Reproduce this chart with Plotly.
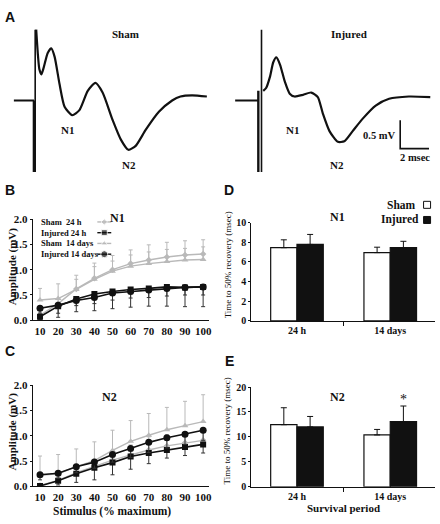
import plotly.graph_objects as go

W, H = 440, 524

# ---------------- Panel A: compound action potential traces (msec, mV) ----------------
sham_base_t = [-1.45, -0.05]
sham_base_v = [0.0, 0.0]
sham_t = [0.10, 0.22, 0.32, 0.46, 0.62, 0.90, 1.15, 1.38, 1.72, 2.07, 2.60, 3.10, 3.68,
          4.21, 4.71, 5.40, 5.98, 6.50, 7.01, 7.70, 8.62, 9.54, 10.12, 10.92, 11.95]
sham_v = [1.25, 0.80, 0.55, 0.46, 0.58, 0.84, 0.92, 0.77, 0.29, -0.11, -0.26, -0.17, 0.17,
          0.31, 0.14, -0.34, -0.69, -0.87, -0.80, -0.52, -0.20, 0.00, 0.07, 0.09, 0.07]
sham_artifact_t = [0.03, 0.03]
sham_artifact_v = [1.25, -1.26]
sham_artifact2_t = [-0.06, -0.06]
sham_artifact2_v = [0.0, -1.26]

inj_base_t = [-1.83, -0.22]
inj_base_v = [0.0, 0.0]
inj_t = [0.12, 0.32, 0.60, 0.81, 1.03, 1.29, 1.61, 1.96, 2.30, 2.88, 3.45, 3.91, 4.26,
         4.72, 5.30, 5.75, 6.33, 7.03, 7.93, 8.86, 10.23, 11.72]
inj_v = [0.17, 0.22, 0.43, 0.67, 0.76, 0.63, 0.34, 0.12, 0.07, 0.10, 0.14, 0.06, -0.23,
         -0.54, -0.73, -0.72, -0.54, -0.32, -0.09, 0.03, 0.07, 0.06]
inj_artifact_t = [0.0, 0.0]
inj_artifact_v = [1.25, -1.26]
inj_artifact2_t = [-0.22, -0.22]
inj_artifact2_v = [0.17, -1.26]

scale_mv = 0.5      # vertical scale bar
scale_ms = 2.0      # horizontal scale bar
scale_origin_t = 9.63
scale_origin_v = -0.85

# ---------------- Panels B, C: amplitude vs stimulus ----------------
stimulus = [10, 20, 30, 40, 50, 60, 70, 80, 90, 100]

n1_sham24 = [0.10, 0.33, 0.62, 0.83, 1.00, 1.12, 1.19, 1.25, 1.29, 1.31]
n1_sham24_err = [0.05, 0.10, 0.27, 0.30, 0.28, 0.27, 0.30, 0.29, 0.28, 0.28]
n1_inj24 = [0.07, 0.28, 0.42, 0.52, 0.57, 0.61, 0.63, 0.66, 0.65, 0.66]
n1_inj24_err = [0.05, 0.22, 0.25, 0.33, 0.34, 0.35, 0.35, 0.38, 0.38, 0.39]
n1_sham14 = [0.40, 0.43, 0.61, 0.81, 0.97, 1.07, 1.12, 1.16, 1.19, 1.20]
n1_sham14_err = [0.23, 0.29, 0.20, 0.25, 0.20, 0.22, 0.23, 0.24, 0.23, 0.25]
n1_inj14 = [0.24, 0.30, 0.39, 0.45, 0.54, 0.57, 0.60, 0.63, 0.65, 0.66]
n1_inj14_err = [0.10, 0.16, 0.10, 0.12, 0.14, 0.13, 0.15, 0.15, 0.15, 0.16]

n2_sham24 = [0.02, 0.12, 0.27, 0.40, 0.52, 0.62, 0.72, 0.80, 0.86, 0.91]
n2_sham24_err = [0.02, 0.06, 0.10, 0.12, 0.15, 0.20, 0.26, 0.22, 0.20, 0.20]
n2_inj24 = [0.01, 0.11, 0.25, 0.37, 0.47, 0.59, 0.66, 0.72, 0.78, 0.83]
n2_inj24_err = [0.01, 0.08, 0.17, 0.24, 0.24, 0.25, 0.21, 0.16, 0.17, 0.17]
n2_sham14 = [0.22, 0.25, 0.39, 0.51, 0.71, 0.89, 1.01, 1.12, 1.20, 1.28]
n2_sham14_err = [0.38, 0.38, 0.35, 0.37, 0.40, 0.41, 0.43, 0.44, 0.48, 0.53]
n2_inj14 = [0.23, 0.26, 0.39, 0.48, 0.63, 0.75, 0.87, 0.96, 1.03, 1.11]
n2_inj14_err = [0.10, 0.10, 0.12, 0.12, 0.15, 0.18, 0.20, 0.20, 0.20, 0.20]

# ---------------- Panels D, E: time to 50% recovery ----------------
periods = ["24 h", "14 days"]
n1_rec_sham = [7.45, 6.95]
n1_rec_sham_err = [0.80, 0.55]
n1_rec_inj = [7.78, 7.45]
n1_rec_inj_err = [1.02, 0.65]
n2_rec_sham = [12.45, 10.40]
n2_rec_sham_err = [3.40, 1.10]
n2_rec_inj = [12.00, 13.05]
n2_rec_inj_err = [2.10, 3.15]
n2_significant = [False, True]

GRAY = "#b9b9b9"
BLACK = "#111111"
SERIF = "Liberation Serif"
SANS = "Liberation Sans"


def px(x, y):
    return x / W, 1 - y / H


fig = go.Figure()

# ---- Panel A traces ----
def add_trace_set(bt, bv, t, v, a1t, a1v, a2t, a2v, xa, ya):
    fig.add_trace(go.Scatter(x=bt, y=bv, mode="lines", line=dict(color=BLACK, width=2.2),
                             xaxis=xa, yaxis=ya, showlegend=False, hoverinfo="skip"))
    fig.add_trace(go.Scatter(x=a1t, y=a1v, mode="lines", line=dict(color=BLACK, width=1.6),
                             xaxis=xa, yaxis=ya, showlegend=False, hoverinfo="skip"))
    fig.add_trace(go.Scatter(x=a2t, y=a2v, mode="lines", line=dict(color=BLACK, width=2.4),
                             xaxis=xa, yaxis=ya, showlegend=False, hoverinfo="skip"))
    fig.add_trace(go.Scatter(x=t, y=v, mode="lines",
                             line=dict(color=BLACK, width=2.2, shape="spline", smoothing=0.6),
                             xaxis=xa, yaxis=ya, showlegend=False, hoverinfo="skip"))

add_trace_set(sham_base_t, sham_base_v, sham_t, sham_v, sham_artifact_t, sham_artifact_v,
              sham_artifact2_t, sham_artifact2_v, "x", "y")
add_trace_set(inj_base_t, inj_base_v, inj_t, inj_v, inj_artifact_t, inj_artifact_v,
              inj_artifact2_t, inj_artifact2_v, "x2", "y2")

# scale bar (data units on the injured trace axes)
fig.add_trace(go.Scatter(
    x=[scale_origin_t, scale_origin_t, scale_origin_t + scale_ms],
    y=[scale_origin_v + scale_mv, scale_origin_v, scale_origin_v],
    mode="lines", line=dict(color=BLACK, width=1.6), xaxis="x2", yaxis="y2",
    showlegend=False, hoverinfo="skip"))

# ---- Panels B and C ----
def add_amp(xa, ya, s24, s24e, i24, i24e, s14, s14e, i14, i14e):
    zeros = [0] * len(stimulus)
    fig.add_trace(go.Scatter(x=stimulus, y=s14, mode="lines+markers",
                             line=dict(color=GRAY, width=1.4),
                             marker=dict(symbol="triangle-up", size=6, color=GRAY),
                             error_y=dict(type="data", array=s14e, arrayminus=zeros, color=GRAY,
                                          thickness=1, width=2),
                             xaxis=xa, yaxis=ya, showlegend=False))
    fig.add_trace(go.Scatter(x=stimulus, y=s24, mode="lines+markers",
                             line=dict(color=GRAY, width=1.4),
                             marker=dict(symbol="diamond", size=5, color=GRAY),
                             error_y=dict(type="data", array=s24e, arrayminus=zeros, color=GRAY,
                                          thickness=1, width=2),
                             xaxis=xa, yaxis=ya, showlegend=False))
    fig.add_trace(go.Scatter(x=stimulus, y=i24, mode="lines+markers",
                             line=dict(color=BLACK, width=1.6),
                             marker=dict(symbol="square", size=6, color=BLACK),
                             error_y=dict(type="data", array=zeros, arrayminus=i24e, color="#333333",
                                          thickness=1, width=2),
                             xaxis=xa, yaxis=ya, showlegend=False))
    fig.add_trace(go.Scatter(x=stimulus, y=i14, mode="lines+markers",
                             line=dict(color=BLACK, width=1.6),
                             marker=dict(symbol="circle", size=7, color=BLACK),
                             error_y=dict(type="data", array=zeros, arrayminus=i14e, color="#333333",
                                          thickness=1, width=2),
                             xaxis=xa, yaxis=ya, showlegend=False))

add_amp("x3", "y3", n1_sham24, n1_sham24_err, n1_inj24, n1_inj24_err,
        n1_sham14, n1_sham14_err, n1_inj14, n1_inj14_err)
add_amp("x4", "y4", n2_sham24, n2_sham24_err, n2_inj24, n2_inj24_err,
        n2_sham14, n2_sham14_err, n2_inj14, n2_inj14_err)

# ---- Panels D and E ----
def add_bars(xa, ya, s, se, i, ie):
    idx = list(range(len(periods)))
    fig.add_trace(go.Bar(x=idx, y=s, marker=dict(color="white", line=dict(color=BLACK, width=1.2)),
                         error_y=dict(type="data", array=se, arrayminus=[0] * len(s), color=BLACK,
                                      thickness=1, width=3),
                         xaxis=xa, yaxis=ya, showlegend=False))
    fig.add_trace(go.Bar(x=idx, y=i, marker=dict(color=BLACK, line=dict(color=BLACK, width=1.2)),
                         error_y=dict(type="data", array=ie, arrayminus=[0] * len(i), color=BLACK,
                                      thickness=1, width=3),
                         xaxis=xa, yaxis=ya, showlegend=False))

add_bars("x5", "y5", n1_rec_sham, n1_rec_sham_err, n1_rec_inj, n1_rec_inj_err)
add_bars("x6", "y6", n2_rec_sham, n2_rec_sham_err, n2_rec_inj, n2_rec_inj_err)

# ---- legend keys drawn on a pixel overlay axis ----
leg_keys = [("Sham  24 h", GRAY, "diamond", 5, 221),
            ("Injured 24 h", BLACK, "square", 6, 232),
            ("Sham  14 days", GRAY, "triangle-up", 6, 243),
            ("Injured 14 days", BLACK, "circle", 7, 254)]
for name, col, sym, size, yy in leg_keys:
    fig.add_trace(go.Scatter(x=[98, 105, 112], y=[yy, yy, yy], mode="lines+markers",
                             line=dict(color=col, width=1.4),
                             marker=dict(symbol=sym, size=[0, size, 0], color=col),
                             xaxis="x7", yaxis="y7", showlegend=False, hoverinfo="skip"))
fig.add_trace(go.Scatter(x=[430, 430], y=[203.5, 219], mode="markers",
                         marker=dict(symbol="square", size=7, color=["white", BLACK],
                                     line=dict(color=BLACK, width=1)),
                         xaxis="x7", yaxis="y7", showlegend=False, hoverinfo="skip"))

# ---------------- axes ----------------
hidden = dict(visible=False, showgrid=False, zeroline=False)
tick_font = dict(family=SERIF, size=11, color=BLACK, weight="bold")
small_tick_font = dict(family=SERIF, size=10, color=BLACK, weight="bold")
line_axis = dict(showline=True, linecolor=BLACK, linewidth=1, showgrid=False, zeroline=False,
                 ticks="outside", ticklen=2, tickcolor=BLACK, tickfont=tick_font)

amp_x = dict(line_axis, range=[6, 103], tickvals=stimulus, ticklen=0, ticks="")
amp_y = dict(line_axis, range=[0, 2.0], tickvals=[0, 0.5, 1.0, 1.5, 2.0], tickformat=".1f")
bar_x = dict(line_axis, range=[-0.49, 1.48], tickvals=[0, 1], ticktext=periods, ticks="",
             tickfont=small_tick_font,
             minor=dict(tickvals=[0.5], ticks="outside", ticklen=4, tickcolor=BLACK))

fig.update_layout(
    width=W, height=H, margin=dict(l=0, r=0, t=0, b=0),
    paper_bgcolor="white", plot_bgcolor="rgba(0,0,0,0)",
    barmode="group", bargap=0.436, bargroupgap=0,
    xaxis=dict(hidden, range=[-2, 12], domain=[6 / W, 209 / W]),
    yaxis=dict(hidden, range=[-1.5, 1.5], domain=[1 - 183.7 / H, 1 - 9.7 / H]),
    xaxis2=dict(hidden, range=[-2, 12], domain=[234.3 / W, 437.3 / W]),
    yaxis2=dict(hidden, range=[-1.5, 1.5], domain=[1 - 183.7 / H, 1 - 9.7 / H]),
    xaxis3=dict(amp_x, domain=[33 / W, 210 / W], anchor="y3"),
    yaxis3=dict(amp_y, domain=[1 - 321.7 / H, 1 - 218 / H], anchor="x3"),
    xaxis4=dict(amp_x, domain=[33 / W, 210 / W], anchor="y4"),
    yaxis4=dict(amp_y, domain=[1 - 491.7 / H, 1 - 388 / H], anchor="x4"),
    xaxis5=dict(bar_x, domain=[253 / W, 438 / W], anchor="y5"),
    yaxis5=dict(line_axis, range=[0, 10], tickvals=[0, 2, 4, 6, 8, 10],
                domain=[1 - 322.3 / H, 1 - 221.7 / H], anchor="x5", tickfont=small_tick_font),
    xaxis6=dict(bar_x, domain=[253 / W, 438 / W], anchor="y6"),
    yaxis6=dict(line_axis, range=[0, 20], tickvals=[0, 5, 10, 15, 20],
                domain=[1 - 492 / H, 1 - 390 / H], anchor="x6", tickfont=small_tick_font),
    xaxis7=dict(hidden, range=[0, W], domain=[0, 1], anchor="y7"),
    yaxis7=dict(hidden, range=[H, 0], domain=[0, 1], anchor="x7"),
)

# ---------------- annotations ----------------
ann = []

def text(x, y, s, size=11, family=SERIF, bold=True, anchor="center", angle=0, color=BLACK):
    fx, fy = px(x, y)
    ann.append(dict(x=fx, y=fy, xref="paper", yref="paper", text=(f"<b>{s}</b>" if bold else s),
                    showarrow=False, xanchor=anchor, yanchor="middle", textangle=angle,
                    font=dict(family=family, size=size, color=color)))

# panel letters
for letter, x, y in [("A", 10, 11), ("B", 10, 188), ("C", 10, 353), ("D", 231, 188), ("E", 231, 363)]:
    text(x, y, letter, size=14, family=SANS)

# panel A labels (data coords)
def dtext(xa, ya, t, v, s, size=11, anchor="center"):
    ann.append(dict(x=t, y=v, xref=xa, yref=ya, text=f"<b>{s}</b>", showarrow=False,
                    xanchor=anchor, yanchor="middle",
                    font=dict(family=SERIF, size=size, color=BLACK)))

dtext("x", "y", 6.28, 1.18, "Sham")
dtext("x", "y", 2.28, -0.52, "N1")
dtext("x", "y", 6.55, -1.14, "N2")
dtext("x2", "y2", 6.05, 1.18, "Injured")
dtext("x2", "y2", 2.12, -0.52, "N1")
dtext("x2", "y2", 5.22, -1.14, "N2")
dtext("x2", "y2", scale_origin_t - 0.2, scale_origin_v + scale_mv * 0.45, "0.5 mV", size=10.5, anchor="right")
dtext("x2", "y2", scale_origin_t + scale_ms / 2, scale_origin_v - 0.15, "2 msec", size=10.5)

# panel titles
text(118, 217, "N1", size=12)
text(110, 400, "N2", size=12)
text(340, 216, "N1", size=12)
text(340, 400, "N2", size=12)

# B legend texts
for name, col, sym, size, yy in leg_keys:
    text(39, yy, name, size=8.5, anchor="left")

# D legend texts
text(421, 203.5, "Sham", size=11.5, anchor="right")
text(424, 219, "Injured", size=11.5, anchor="right")

# axis titles
text(12.5, 266, "Amplitude (mV)", size=11, angle=-90)
text(12.5, 435, "Amplitude (mV)", size=11, angle=-90)
text(229, 265, "Time to 50% recovery (msec)", size=9, bold=False, angle=-90)
text(229, 435, "Time to 50% recovery (msec)", size=9, bold=False, angle=-90)
text(113, 517, "Stimulus (% maximum)", size=11.5)
text(346, 514, "Survival period", size=11)

fig.update_layout(annotations=ann)

# significance star (data coords)
for k, sig in enumerate(n2_significant):
    if sig:
        fig.add_annotation(x=k + 0.14, y=n2_rec_inj[k] + n2_rec_inj_err[k] + 1.3, xref="x6", yref="y6",
                           text="*", showarrow=False,
                           font=dict(family=SERIF, size=14, color=BLACK))

fig.write_html("out.html", config={"displayModeBar": False},
               post_script="document.body.style.margin='0';document.body.style.overflow='hidden';")
